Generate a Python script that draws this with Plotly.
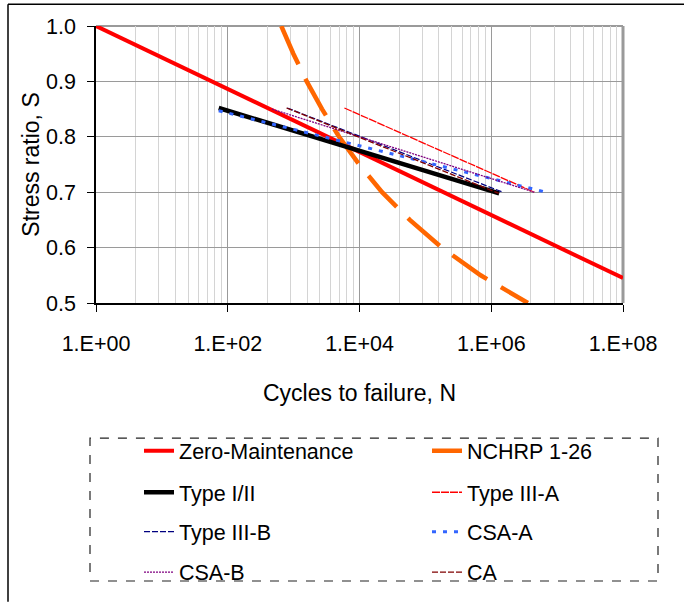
import plotly.graph_objects as go

# ---- data ----
zm_N = [1, 7.6, 58, 440, 3300, 25000, 190000, 1.45e6, 1.1e7, 1e8]
zm_S = [1.0, 0.95, 0.90, 0.85, 0.80, 0.75, 0.70, 0.65, 0.60, 0.545]

nchrp_N = [650, 990, 1580, 2700, 4900, 9900, 22000, 58000, 177000, 690000, 3.6e6]
nchrp_S = [1.0, 0.95, 0.90, 0.85, 0.80, 0.75, 0.70, 0.65, 0.60, 0.55, 0.50]

t12_N = [73, 1.32e6]
t12_S = [0.852, 0.698]

t3a_N = [5900, 4.5e6]
t3a_S = [0.852, 0.700]

t3b_N = [800, 1.5e6]
t3b_S = [0.852, 0.700]

csaa_N = [73, 6.8e6]
csaa_S = [0.847, 0.700]

csab_N = [470, 4.5e6]
csab_S = [0.850, 0.700]

ca_N = [780, 1.3e6]
ca_S = [0.852, 0.698]

x_tickvals = [1, 1e2, 1e4, 1e6, 1e8]
x_ticktext = ["1.E+00", "1.E+02", "1.E+04", "1.E+06", "1.E+08"]
minor_vals = [k * k * 100 ** j for j in range(4) for k in range(2, 10)]

FONT = "Liberation Sans, Arial, sans-serif"

series = [
    ("Zero-Maintenance", zm_N, zm_S, "#FF0000", 4, "solid"),
    ("NCHRP 1-26", nchrp_N, nchrp_S, "#FF6600", 4.5, "42px,16px"),
    ("Type I/II", t12_N, t12_S, "#000000", 4.5, "solid"),
    ("Type III-A", t3a_N, t3a_S, "#FF0000", 1.3, "8px,1px"),
    ("Type III-B", t3b_N, t3b_S, "#000080", 1.2, "6px,2px"),
    ("CSA-A", csaa_N, csaa_S, "#3366FF", 3, "4px,7px"),
    ("CSA-B", csab_N, csab_S, "#800080", 1.3, "2px,1px"),
    ("CA", ca_N, ca_S, "#800000", 1.3, "6px,2px"),
]

# plot-area pixel geometry
L, R, T, B = 96, 623, 26, 307
W, H = 684, 605
def px(x):
    return (x - L) / (R - L)
def py(y):
    return (B - y) / (B - T)

row_y = [457, 499, 539, 580]
col_x = [139, 427]

fig = go.Figure()
legend_layouts = {}
for i, (name, xs, ys, color, width, dash) in enumerate(series):
    lname = "legend" if i == 0 else f"legend{i+1}"
    fig.add_trace(go.Scatter(
        x=xs, y=ys, mode="lines", name=name,
        line=dict(color=color, width=width, dash=dash),
        legend=lname, hoverinfo="skip",
    ))
    r, c = divmod(i, 2)
    legend_layouts[lname] = dict(
        x=px(col_x[c]), y=py(row_y[r]), xanchor="left", yanchor="middle",
        bgcolor="rgba(0,0,0,0)", borderwidth=0,
        font=dict(family=FONT, size=21.5, color="black"),
    )

fig.update_layout(
    width=W, height=H,
    margin=dict(l=L, r=W - R, t=T, b=H - B),
    paper_bgcolor="white", plot_bgcolor="white",
    font=dict(family=FONT, size=21, color="black"),
    showlegend=True,
    **legend_layouts,
)

fig.update_xaxes(
    type="log", range=[0, 8],
    tickmode="array", tickvals=x_tickvals, ticktext=x_ticktext,
    ticks="outside", ticklen=7, tickcolor="black", tickwidth=1,
    ticklabelstandoff=13,
    showline=True, linecolor="black", linewidth=1.5,
    showgrid=True, gridcolor="#9a9a9a", gridwidth=1,
    minor=dict(tickmode="array", tickvals=minor_vals, showgrid=True,
               gridcolor="#d4d4d4", gridwidth=1, ticks=""),
    zeroline=False,
    title=dict(text="Cycles to failure, N", font=dict(size=23), standoff=30),
    tickfont=dict(size=21.5),
)
fig.update_yaxes(
    range=[0.5, 1.0], tickmode="linear", tick0=0.5, dtick=0.1, tickformat=".1f",
    ticks="outside", ticklen=7, tickcolor="black", tickwidth=1,
    ticklabelstandoff=7,
    showline=True, linecolor="black", linewidth=1.5,
    showgrid=True, gridcolor="#9a9a9a", gridwidth=1,
    zeroline=False,
    title=dict(text="Stress ratio, S", font=dict(size=23), standoff=0),
    tickfont=dict(size=21.5),
)

# gray top / right frame of the plot area
fig.add_shape(type="line", xref="paper", yref="paper", x0=0, x1=1, y0=1, y1=1,
              line=dict(color="#9a9a9a", width=2), layer="below")
fig.add_shape(type="line", xref="paper", yref="paper", x0=1, x1=1, y0=0, y1=1,
              line=dict(color="#9a9a9a", width=3), layer="below")

# outer chart frame (left and top edges)
fig.add_shape(type="line", xref="paper", yref="paper",
              x0=px(8), x1=px(W + 5), y0=py(4), y1=py(4),
              line=dict(color="black", width=1.5))
fig.add_shape(type="line", xref="paper", yref="paper",
              x0=px(8), x1=px(8), y0=py(4), y1=py(H + 5),
              line=dict(color="black", width=1.5))

# dashed legend box
fig.add_shape(type="rect", xref="paper", yref="paper",
              x0=px(90), x1=px(658), y0=py(589), y1=py(444),
              line=dict(color="#222222", width=1.2, dash="dash"))

fig.write_html("out.html")
